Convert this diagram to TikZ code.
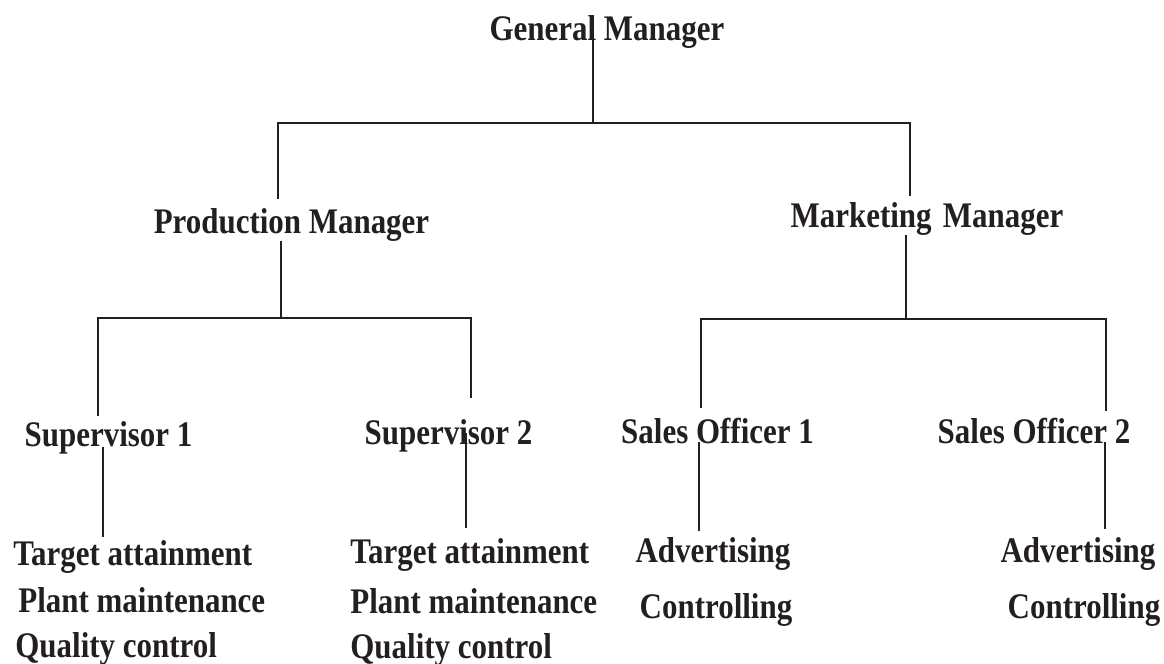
\documentclass[tikz,border=0pt]{standalone}
\usepackage{fontspec}
\setmainfont{Liberation Serif}[FakeStretch=0.86]

\definecolor{ink}{HTML}{231F20}

\tikzset{
	post/.style={anchor=base, inner sep=0pt, text=ink, font=\fontsize{18}{21}\selectfont\bfseries},
	task/.style={post, anchor=base west},
	link/.style={draw=ink, line width=1.2pt},
}

\begin{document}
\begin{tikzpicture}[x=0.5pt, y=-0.5pt]

	\useasboundingbox (0,0) rectangle (1164,664);

	%%% Posts %%%

	\node[post] (gm) at (607,40) {General Manager};
	\node[post] (pm) at (291.5,233) {Production Manager};
	\node[post] (mm) at (927,227) {Marketing\hspace{0.1em} Manager};

	\node[post] (s1) at (108.5,446) {Supervisor 1};
	\node[post] (s2) at (448.5,444) {Supervisor 2};
	\node[post] (so1) at (717.5,443) {Sales Officer 1};
	\node[post] (so2) at (1034,443) {Sales Officer 2};

	%%% Tasks %%%

	\node[task] (t1a) at (13,565) {Target attainment};
	\node[task] (t1b) at (18,612) {Plant maintenance};
	\node[task] (t1c) at (15,657) {Quality control};

	\node[task] (t2a) at (350,563) {Target attainment};
	\node[task] (t2b) at (350,613) {Plant maintenance};
	\node[task] (t2c) at (350,658) {Quality control};

	\node[post] (t3a) at (713,562) {Advertising};
	\node[post] (t3b) at (716,618) {Controlling};

	\node[post] (t4a) at (1078,562) {Advertising};
	\node[post] (t4b) at (1084,618) {Controlling};

	%%% Junctions %%%

	\coordinate (b0) at (593,123);
	\coordinate (b1) at (278,123);
	\coordinate (b2) at (910,123);

	\coordinate (c1) at (281,318);
	\coordinate (c1l) at (98,318);
	\coordinate (c1r) at (471,318);

	\coordinate (c2) at (906,319);
	\coordinate (c2l) at (701,319);
	\coordinate (c2r) at (1106,319);

	\coordinate (d1) at (103,500);
	\coordinate (d2) at (466,500);
	\coordinate (d3) at (699,500);
	\coordinate (d4) at (1105,500);

	%%% Lines %%%

	\draw[link] (gm.base -| b0) -- (b0);
	\draw[link, shorten <=4.5pt, shorten >=3pt] (pm.north -| b1) -- (b1) -- (b2) -- (mm.north -| b2);

	\draw[link] (pm.south -| c1) -- (c1);
	\draw[link, shorten <=2.5pt, shorten >=10.5pt] (s1.north -| c1l) -- (c1l) -- (c1r) -- (s2.north -| c1r);

	\draw[link] (mm.south -| c2) -- (c2);
	\draw[link, shorten <=4.5pt, shorten >=3pt] (so1.north -| c2l) -- (c2l) -- (c2r) -- (so2.north -| c2r);

	\draw[link, shorten <=0.5pt, shorten >=1.5pt] (s1.base -| d1) -- (t1a.north -| d1);
	\draw[link, shorten <=-5.5pt, shorten >=5pt] (s2.base -| d2) -- (t2a.north -| d2);
	\draw[link, shorten <=-0.5pt, shorten >=3pt] (so1.base -| d3) -- (t3a.north -| d3);
	\draw[link, shorten <=-0.5pt, shorten >=4pt] (so2.base -| d4) -- (t4a.north -| d4);

\end{tikzpicture}
\end{document}
